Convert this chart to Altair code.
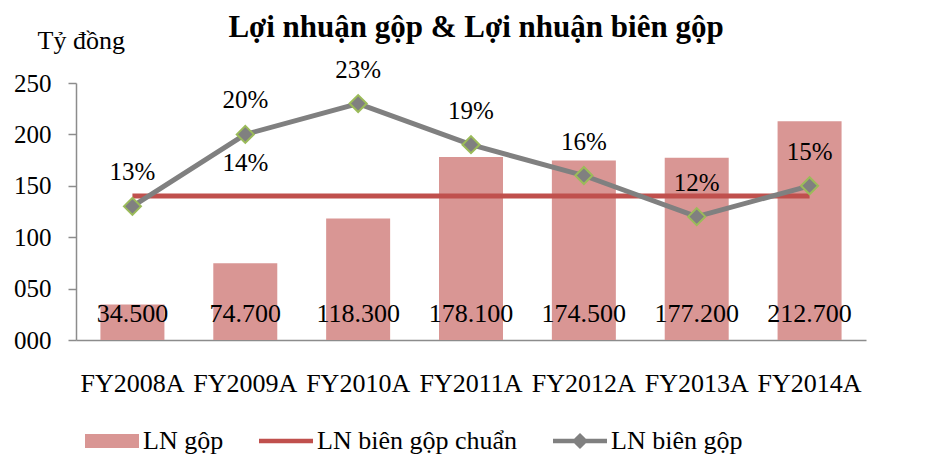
import altair as alt
import pandas as pd

years = ["FY2008A", "FY2009A", "FY2010A", "FY2011A", "FY2012A", "FY2013A", "FY2014A"]
gross_profit = [34.5, 74.7, 118.3, 178.1, 174.5, 177.2, 212.7]
gross_margin_pct = [13, 20, 23, 19, 16, 12, 15]
standard_margin_pct = 14
standard_label_year = "FY2009A"
series = ["LN gộp", "LN biên gộp chuẩn", "LN biên gộp"]
series_colors = ["#d99694", "#c0504d", "#808080"]
left_ticks = [0, 50, 100, 150, 200, 250]
right_ticks = [0, 0.05, 0.10, 0.15, 0.20, 0.25]

FONT = "Liberation Serif"
AXIS_GRAY = "#8c8c8c"

df = pd.DataFrame({
    "year": years,
    "profit": gross_profit,
    "profit_label": [f"{v:.3f}" for v in gross_profit],
    "margin": [m / 100 for m in gross_margin_pct],
    "margin_label": [f"{m}%" for m in gross_margin_pct],
    "std": [standard_margin_pct / 100] * len(years),
})
std_df = pd.DataFrame({
    "year": [standard_label_year],
    "std": [standard_margin_pct / 100],
    "label": [f"{standard_margin_pct}%"],
})
legend_df = pd.DataFrame({"series": series})

legend_paths = [
    "M-1,-0.26 L1,-0.26 L1,0.26 L-1,0.26 Z",
    "M-1,-0.08 L1,-0.08 L1,0.08 L-1,0.08 Z",
    "M-1,-0.08 L1,-0.08 L1,0.08 L-1,0.08 Z M0,-0.3 L0.3,0 L0,0.3 L-0.3,0 Z",
]

x_enc = alt.X(
    "year:N", sort=years, title=None,
    scale=alt.Scale(paddingInner=0.433, paddingOuter=0.2165),
    axis=alt.Axis(labelFont=FONT, labelFontSize=26, labelColor="black",
                  labelPadding=30, ticks=False, domainColor=AXIS_GRAY,
                  domainWidth=1.5, labelAngle=0),
)

left_axis = alt.Axis(
    values=left_ticks,
    labelExpr="datum.value < 10 ? '00' + datum.value : (datum.value < 100 ? '0' + datum.value : '' + datum.value)",
    title="Tỷ đồng", titleAngle=0, titleX=-39, titleY=-43, titleAlign="left",
    titleBaseline="middle", titleFont=FONT, titleFontSize=26, titleFontWeight="normal",
    titleColor="black", grid=False, labelFont=FONT, labelFontSize=25, labelColor="black",
    tickSize=8, labelPadding=17, domainColor=AXIS_GRAY, tickColor=AXIS_GRAY,
    domainWidth=1.5, tickWidth=1.5,
)
right_axis = alt.Axis(
    orient="right", values=right_ticks, format=".0%", title=None, grid=False,
    labelFont=FONT, labelFontSize=25, labelColor="black", tickSize=8, labelPadding=16,
    domainColor=AXIS_GRAY, tickColor=AXIS_GRAY, domainWidth=1.5, tickWidth=1.5,
)

base = alt.Chart(df)

bars = base.mark_bar(color=series_colors[0]).encode(
    x=x_enc,
    y=alt.Y("profit:Q", scale=alt.Scale(domain=[0, 250], nice=False), axis=left_axis),
)
bar_text = base.mark_text(font=FONT, fontSize=26, dy=-26, baseline="middle", color="black").encode(
    x=x_enc, y=alt.datum(0), text="profit_label:N"
)

leg = alt.Legend(title=None, orient="none", legendX=9, legendY=331, direction="horizontal",
                 labelFont=FONT, labelFontSize=26, labelColor="black", columnPadding=35,
                 labelOffset=4, labelLimit=600, symbolSize=2916, symbolStrokeWidth=0,
                 symbolOpacity=1)
legend_layer = alt.Chart(legend_df).mark_point(filled=True, opacity=0).encode(
    color=alt.Color("series:N", scale=alt.Scale(domain=series, range=series_colors), legend=leg),
    shape=alt.Shape("series:N", scale=alt.Scale(domain=series, range=legend_paths), legend=leg),
)

left = alt.layer(bars, bar_text, legend_layer)

y_right = alt.Y("std:Q", scale=alt.Scale(domain=[0, 0.25], nice=False), axis=right_axis)
std_line = base.mark_line(color=series_colors[1], strokeWidth=5).encode(x=x_enc, y=y_right)
margin_line = base.mark_line(color=series_colors[2], strokeWidth=5).encode(
    x=x_enc, y=alt.Y("margin:Q", axis=None)
)
points = base.mark_point(shape="diamond", filled=True, fill="#808080", stroke="#9bbb59",
                         strokeWidth=2, size=290, opacity=1).encode(
    x=x_enc, y=alt.Y("margin:Q", axis=None)
)
margin_text = base.mark_text(font=FONT, fontSize=25, dy=-34, baseline="middle", color="black").encode(
    x=x_enc, y=alt.Y("margin:Q", axis=None), text="margin_label:N"
)
std_text = alt.Chart(std_df).mark_text(font=FONT, fontSize=25, dy=-33, baseline="middle", color="black").encode(
    x=x_enc, y=alt.Y("std:Q", axis=None), text="label:N"
)
right = alt.layer(std_line, margin_line, points, margin_text, std_text)

chart = alt.layer(left, right).resolve_scale(y="independent").properties(
    width=790, height=257,
    title=alt.Title("Lợi nhuận gộp & Lợi nhuận biên gộp", font=FONT, fontSize=31,
                    fontWeight="bold", color="black", anchor="middle", offset=-17, dx=5),
    autosize=alt.AutoSizeParams(type="none"),
    padding={"left": 68, "top": 75, "right": 65, "bottom": 114},
).configure_view(stroke=None)

chart.save("out.html", embed_options={"renderer": "svg", "actions": False})
